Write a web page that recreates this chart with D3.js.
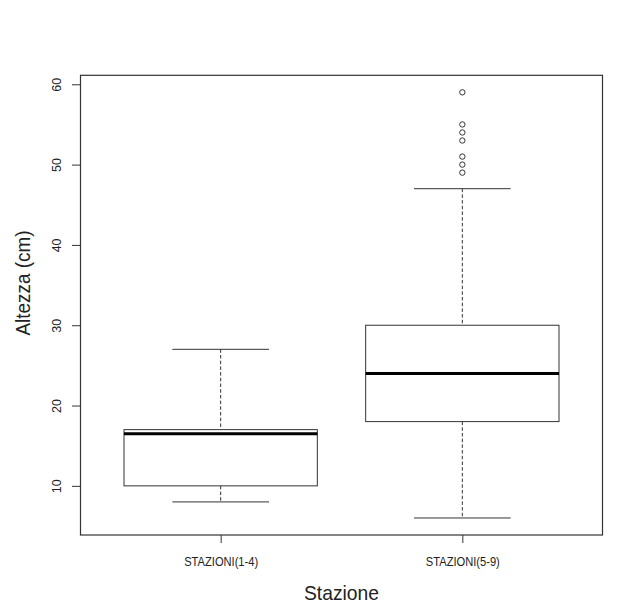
<!DOCTYPE html>
<html>
<head>
<meta charset="utf-8">
<script src="https://cdn.jsdelivr.net/npm/d3@7"></script>
<style>
  body { margin: 0; background: #fff; }
  svg { display: block; font-family: "Liberation Sans", Arial, sans-serif; }
</style>
</head>
<body>
<svg id="chart" width="631" height="610"></svg>
<script>
// data
const categories = ['STAZIONI(1-4)', 'STAZIONI(5-9)'];
const whiskerLow = [8, 6];
const quart1 = [10, 18];
const medians = [16.5, 24];
const quart3 = [17, 30];
const whiskerHigh = [27, 47];
const outliers = [[], [59, 55, 54, 53, 51, 50, 49]];
const yTicks = [10, 20, 30, 40, 50, 60];

const svg = d3.select('#chart');
const margin = { top: 75.3, right: 28.5, bottom: 75, left: 80.5 };
const width = 631 - margin.left - margin.right;
const height = 610 - margin.top - margin.bottom;
const ink = '#333';

const boxes = categories.map((c, i) => ({
  name: c, pos: i + 1,
  lo: whiskerLow[i], q1: quart1[i], med: medians[i], q3: quart3[i], hi: whiskerHigh[i],
  out: outliers[i]
}));

// R style ranges: extended 4% on both sides
const x = d3.scaleLinear().domain([0.42, categories.length + 0.58]).range([0, width]);
const y = d3.scaleLinear().domain([3.88, 61.12]).range([height, 0]);

const g = svg.append('g').attr('transform', `translate(${margin.left},${margin.top})`);

const boxW = x(1.4) - x(1);     // half of boxwex 0.8
const capW = boxW / 2;

const bx = g.selectAll('.box').data(boxes).enter().append('g').attr('class', 'box');

// whiskers (dashed)
bx.append('line')
  .attr('x1', d => x(d.pos)).attr('x2', d => x(d.pos))
  .attr('y1', d => y(d.hi)).attr('y2', d => y(d.q3))
  .attr('stroke', ink).attr('stroke-dasharray', '3.5,2.2');
bx.append('line')
  .attr('x1', d => x(d.pos)).attr('x2', d => x(d.pos))
  .attr('y1', d => y(d.q1)).attr('y2', d => y(d.lo))
  .attr('stroke', ink).attr('stroke-dasharray', '3.5,2.2');

// caps
bx.selectAll('.cap').data(d => [d.lo, d.hi].map(v => ({ pos: d.pos, v }))).enter().append('line')
  .attr('x1', d => x(d.pos) - capW).attr('x2', d => x(d.pos) + capW)
  .attr('y1', d => y(d.v)).attr('y2', d => y(d.v))
  .attr('stroke', ink);

// box
bx.append('rect')
  .attr('x', d => x(d.pos) - boxW).attr('width', 2 * boxW)
  .attr('y', d => y(d.q3)).attr('height', d => y(d.q1) - y(d.q3))
  .attr('fill', 'none').attr('stroke', ink);

// median
bx.append('line')
  .attr('x1', d => x(d.pos) - boxW).attr('x2', d => x(d.pos) + boxW)
  .attr('y1', d => y(d.med)).attr('y2', d => y(d.med))
  .attr('stroke', '#000').attr('stroke-width', 3);

// outliers
bx.selectAll('.out').data(d => d.out.map(v => ({ pos: d.pos, v }))).enter().append('circle')
  .attr('cx', d => x(d.pos)).attr('cy', d => y(d.v)).attr('r', 2.7)
  .attr('fill', 'none').attr('stroke', ink);

// frame
g.append('rect').attr('width', width).attr('height', height)
  .attr('fill', 'none').attr('stroke', ink).attr('stroke-width', 1.2);

// y axis
const yAxis = g.append('g').attr('transform', 'translate(-0.5,0)')
  .call(d3.axisLeft(y).tickValues(yTicks).tickSize(8).tickSizeOuter(0));
yAxis.select('.domain').remove();
yAxis.selectAll('line').attr('stroke', ink);
yAxis.selectAll('text')
  .attr('x', 0).attr('y', 0).attr('dy', null)
  .attr('transform', 'translate(-19,0) rotate(-90)')
  .attr('text-anchor', 'middle')
  .attr('font-size', 12.5).attr('font-family', '"Liberation Sans", Arial, sans-serif')
  .attr('fill', '#222');

// x axis
const xAxis = g.append('g').attr('transform', `translate(0,${height})`)
  .call(d3.axisBottom(x).tickValues(boxes.map(d => d.pos))
    .tickFormat((d, i) => categories[i]).tickSize(8).tickSizeOuter(0));
xAxis.select('.domain').remove();
xAxis.selectAll('line').attr('stroke', ink);
xAxis.selectAll('text')
  .attr('y', 31).attr('dy', null)
  .attr('font-size', 13).attr('font-family', '"Liberation Sans", Arial, sans-serif')
  .attr('textLength', 74).attr('lengthAdjust', 'spacingAndGlyphs')
  .attr('fill', '#222');

// axis titles
svg.append('text')
  .attr('x', margin.left + width / 2).attr('y', 600)
  .attr('text-anchor', 'middle').attr('font-size', 21)
  .attr('textLength', 75).attr('lengthAdjust', 'spacingAndGlyphs')
  .attr('fill', '#222').text('Stazione');

svg.append('text')
  .attr('transform', 'translate(29.5,283) rotate(-90)')
  .attr('text-anchor', 'middle').attr('font-size', 20)
  .attr('textLength', 105).attr('lengthAdjust', 'spacingAndGlyphs')
  .attr('fill', '#222').text('Altezza (cm)');
</script>
</body>
</html>
